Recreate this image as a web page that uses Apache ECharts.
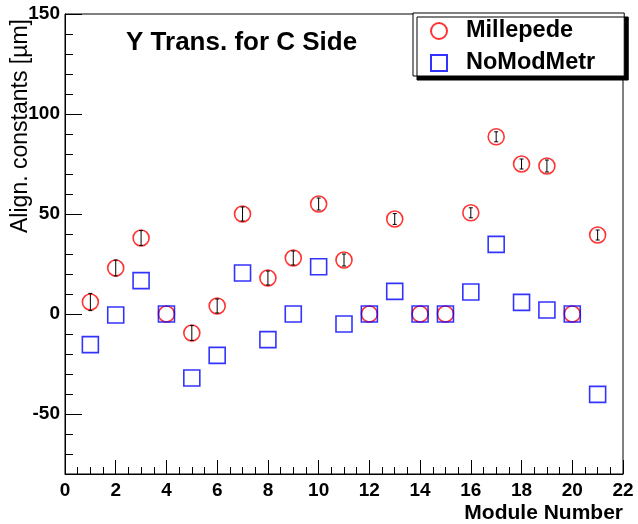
<!DOCTYPE html>
<html>
<head>
<meta charset="utf-8">
<script src="https://cdn.jsdelivr.net/npm/echarts@6/dist/echarts.min.js"></script>
<style>
  html, body { margin: 0; padding: 0; background: #fff; }
  #chart { width: 638px; height: 524px; }
</style>
</head>
<body>
<div id="chart"></div>
<script>
// module numbers 1..21
const modules = [1, 2, 3, 4, 5, 6, 7, 8, 9, 10, 11, 12, 13, 14, 15, 16, 17, 18, 19, 20, 21];
// Millepede values and their errors (um)
const millepede = [6, 23, 38, 0, -9.5, 4, 50, 18, 28, 55, 27, 0, 47.5, 0, 0, 50.6, 88.6, 75, 74, 0, 39.5];
const milleErr  = [4.3, 4, 3.7, 0, 3.7, 3.5, 3.5, 3.5, 3.5, 3, 3, 0, 2.7, 0, 0, 2.5, 2.5, 2.5, 3, 0, 2.5];
// NoModMetr values (um)
const noModMetr = [-15.3, -0.5, 16.7, 0, -32, -20.7, 20.5, -12.8, 0, 23.6, -5, 0, 11.3, 0, 0, 11, 34.8, 5.8, 2, 0, -40.2];
// y tick labels
const yLabels = [-50, 0, 50, 100, 150];

const font = "'Liberation Sans', Arial, sans-serif";

const milleData = modules.map((m, i) => [m, millepede[i]]);
const noModData = modules.map((m, i) => [m, noModMetr[i]]);
const errData = modules.map((m, i) => [m, millepede[i], milleErr[i]]);

const chart = echarts.init(document.getElementById('chart'));

chart.setOption({
  animation: false,
  backgroundColor: '#fff',
  textStyle: { fontFamily: font },
  title: {
    text: 'Y Trans. for C Side',
    left: 126,
    top: 30,
    padding: 0,
    textStyle: { fontFamily: font, fontSize: 26, fontWeight: 'bold', color: '#000' }
  },
  // y axis title, rotated, sits at the top of the axis like in ROOT
  graphic: [{
    type: 'text',
    x: 21,
    y: 126,
    rotation: Math.PI / 2,
    style: {
      text: 'Align. constants [\u00b5m]',
      font: "23px 'Liberation Sans', Arial, sans-serif",
      fill: '#000',
      align: 'center',
      verticalAlign: 'middle'
    }
  }],
  legend: {
    left: 413,
    top: 13,
    orient: 'vertical',
    padding: [6, 29, 1, 17],
    itemGap: 8,
    itemWidth: 16,
    itemHeight: 16,
    backgroundColor: '#fff',
    borderColor: '#000',
    borderWidth: 1,
    borderRadius: 0,
    shadowColor: '#000',
    shadowBlur: 0,
    shadowOffsetX: 4,
    shadowOffsetY: 4,
    textStyle: { fontFamily: font, fontSize: 23.5, fontWeight: 'bold', color: '#000', lineHeight: 20, padding: [0, 0, 0, 14] },
    data: ['Millepede', 'NoModMetr']
  },
  grid: {
    left: 65, right: 15, top: 14, bottom: 50,
    outerBoundsMode: 'none',
    containLabel: false,
    show: true,
    borderColor: '#000',
    borderWidth: 1,
    backgroundColor: 'transparent'
  },
  xAxis: {
    type: 'value',
    min: 0,
    max: 22,
    interval: 2,
    name: 'Module Number',
    nameLocation: 'end',
    nameGap: 0,
    nameTextStyle: { fontFamily: font, fontSize: 21, fontWeight: 'bold', color: '#000', align: 'right', verticalAlign: 'top', padding: [29, 0, 0, 0] },
    axisLine: { show: true, onZero: false, lineStyle: { color: '#000', width: 1 } },
    axisTick: { show: true, inside: true, length: 14, lineStyle: { color: '#000' } },
    minorTick: { show: true, splitNumber: 4, length: 7, lineStyle: { color: '#000' } },
    axisLabel: { fontFamily: font, fontSize: 19, fontWeight: 'bold', color: '#000', margin: 7 },
    splitLine: { show: false }
  },
  yAxis: [{
    type: 'value',
    min: -80,
    max: 150,
    axisLine: { show: true, onZero: false, lineStyle: { color: '#000', width: 1 } },
    axisTick: { show: true, inside: true, length: 17, customValues: yLabels, lineStyle: { color: '#000' } },
    axisLabel: { customValues: yLabels, fontFamily: font, fontSize: 19, fontWeight: 'bold', color: '#000', margin: 5 },
    splitLine: { show: false }
  }, {
    type: 'value',
    position: 'left',
    min: -80,
    max: 150,
    interval: 10,
    axisLine: { show: false, onZero: false },
    axisTick: { show: true, inside: true, length: 8, lineStyle: { color: '#000' } },
    axisLabel: { show: false },
    splitLine: { show: false }
  }],
  series: [{
    name: 'Millepede',
    type: 'scatter',
    symbol: 'circle',
    symbolSize: 16,
    itemStyle: { color: 'rgba(0,0,0,0)', borderColor: '#ff0000', borderWidth: 1.6 },
    data: milleData,
    z: 2
  }, {
    name: 'NoModMetr',
    type: 'scatter',
    symbol: 'rect',
    symbolSize: 16,
    itemStyle: { color: 'rgba(0,0,0,0)', borderColor: '#0000ff', borderWidth: 1.6 },
    data: noModData,
    z: 3
  }, {
    name: 'err',
    type: 'custom',
    data: errData,
    z: 4,
    renderItem: function (params, api) {
      const x = api.value(0), y = api.value(1), e = api.value(2);
      if (!e) return null;
      const hi = api.coord([x, y + e]);
      const lo = api.coord([x, y - e]);
      const c = 2;
      const st = { stroke: '#000', lineWidth: 1 };
      return {
        type: 'group',
        children: [
          { type: 'line', shape: { x1: hi[0], y1: hi[1], x2: lo[0], y2: lo[1] }, style: st },
          { type: 'line', shape: { x1: hi[0] - c, y1: hi[1], x2: hi[0] + c, y2: hi[1] }, style: st },
          { type: 'line', shape: { x1: lo[0] - c, y1: lo[1], x2: lo[0] + c, y2: lo[1] }, style: st }
        ]
      };
    }
  }]
});
</script>
</body>
</html>
